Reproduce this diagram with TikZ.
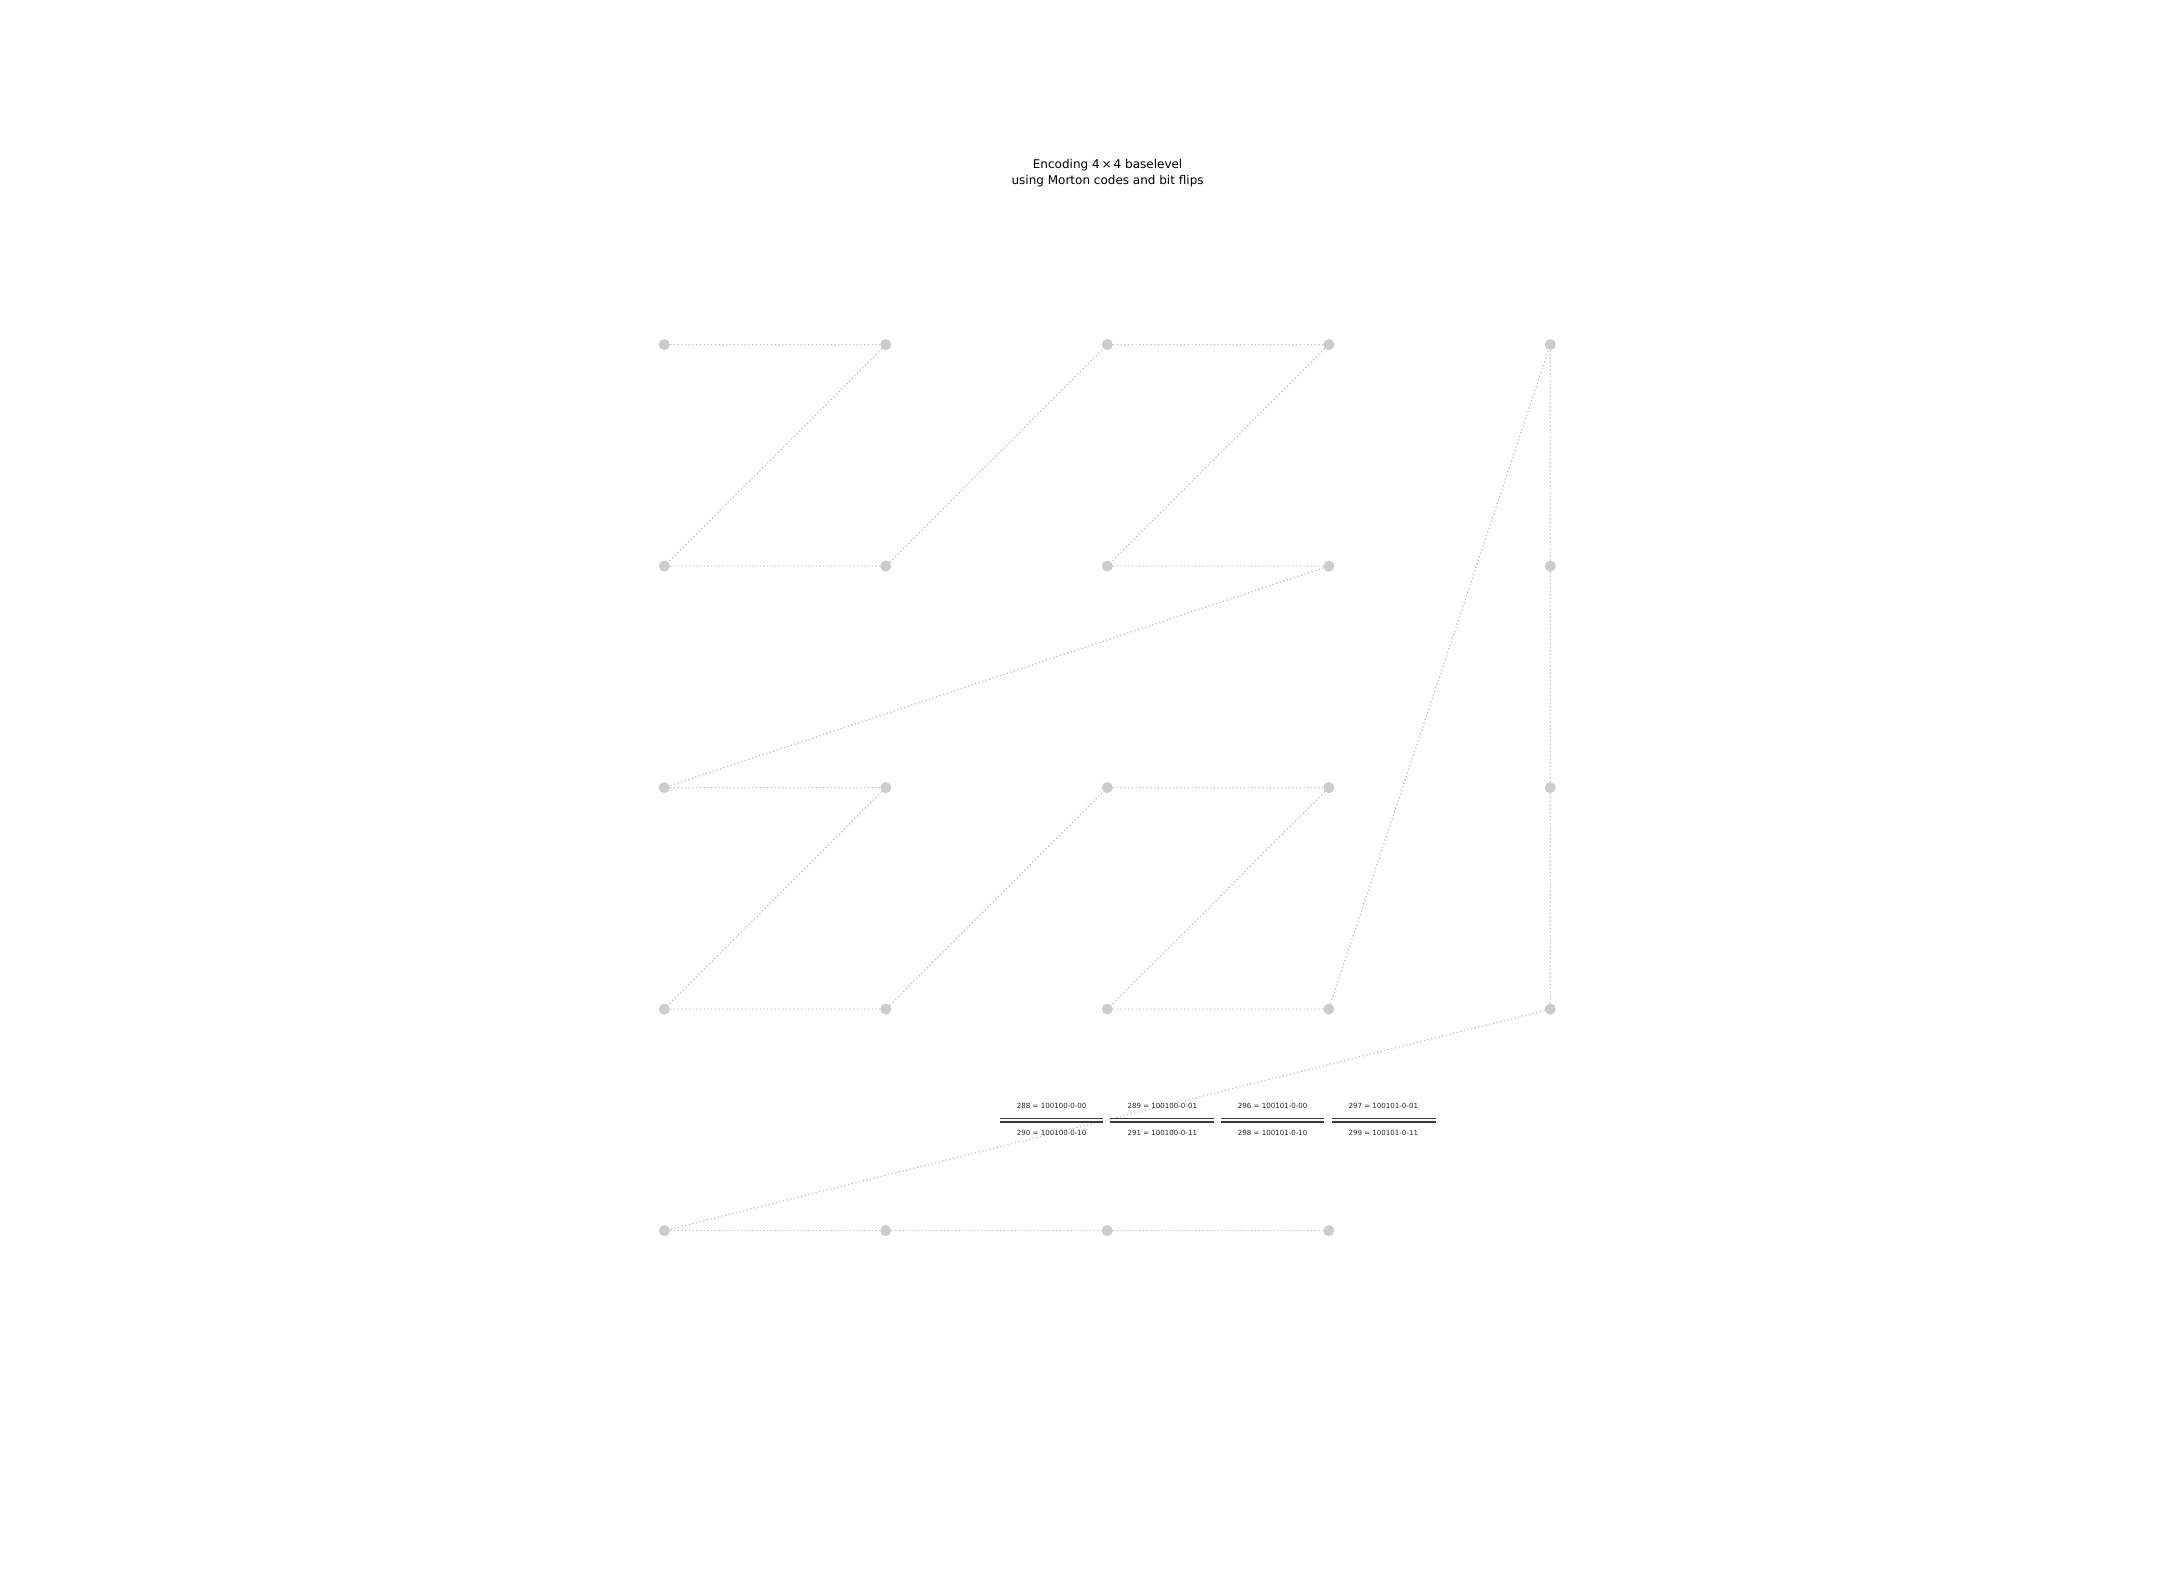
\documentclass[tikz,border=0pt]{standalone}
\usepackage{fontspec}
\setmainfont{DejaVu Sans}
\usepackage{tikz}
\usetikzlibrary{positioning}
\definecolor{ptgray}{HTML}{CCCCCC}
\definecolor{linegray}{HTML}{BEBEBE}
\definecolor{bargray}{HTML}{3A3A3A}

\tikzset{
  gridpt/.style={circle, fill=ptgray, inner sep=0pt, minimum size=8.3pt},
  curve/.style={draw=linegray, line width=0.9pt, dash pattern=on 0.9pt off 1.9pt},
  code/.style={font=\fontsize{5.3}{6}\selectfont, text=black!85, inner sep=0pt},
  bar/.style={draw=bargray, line width=1.1pt}
}

\begin{document}
\begin{tikzpicture}[x=0.75pt, y=-0.75pt]
  \useasboundingbox (0,0) rectangle (2160,1584);
  % title
  \node[align=center, font=\fontsize{9}{12}\selectfont] (title) at (1107.6,173)
    {Encoding 4\,×\,4 baselevel\\using Morton codes and bit flips};

  % grid points, named p<col><row>
  \foreach \c in {0,...,4}
    \foreach \r in {0,...,3}
      \node[gridpt] (p\c\r) at (664.3+221.5*\c, 344.6+221.5*\r) {};
  \foreach \c in {0,...,3}
    \node[gridpt] (p\c4) at (664.3+221.5*\c, 1230.6) {};

  % Morton order curve
  \draw[curve] (p00) -- (p10) -- (p01) -- (p11) -- (p20) -- (p30) -- (p21) -- (p31)
    -- (p02) -- (p12) -- (p03) -- (p13) -- (p22) -- (p32) -- (p23) -- (p33)
    -- (p40) -- (p41) -- (p42) -- (p43)
    -- (p04) -- (p14) -- (p24) -- (p34);

  % codes with bit flips
  \node[code] (c288) at (1051.7,1106) {288 = 100100-0-00};
  \node[code] (c290) at (1051.7,1133.3) {290 = 100100-0-10};
  \node[code] (c289) at (1162.3,1106) {289 = 100100-0-01};
  \node[code] (c291) at (1162.3,1133.3) {291 = 100100-0-11};
  \node[code] (c296) at (1272.7,1106) {296 = 100101-0-00};
  \node[code] (c298) at (1272.7,1133.3) {298 = 100101-0-10};
  \node[code] (c297) at (1383.3,1106) {297 = 100101-0-01};
  \node[code] (c299) at (1383.3,1133.3) {299 = 100101-0-11};
  \foreach \xa in {1000,1110.3,1220.7,1332.3}{
    \draw[bar] (\xa,1118.3) -- ++(103.4,0);
    \draw[bar] (\xa,1122) -- ++(103.4,0);
  }
\end{tikzpicture}
\end{document}
